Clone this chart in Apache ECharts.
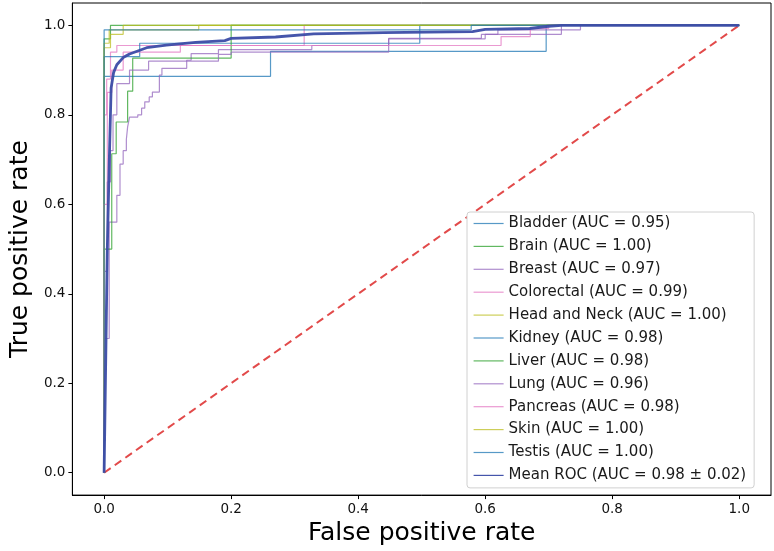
<!DOCTYPE html>
<html>
<head>
<meta charset="utf-8">
<script src="https://cdn.jsdelivr.net/npm/echarts@6/dist/echarts.min.js"></script>
<style>
  html, body { margin: 0; padding: 0; background: #fff; }
  #chart { width: 774px; height: 551px; }
</style>
</head>
<body>
<div id="chart"></div>
<script>
// ROC points [fpr, tpr]
var bladder = [[0,0],[0,0.6],[0,0.886],[0.262,0.942],[0.696,1],[1,1]];
var brain = [[0,0],[0,0.97],[0.01,1],[1,1]];
var breast = [[0,0],[0,0.3],[0.008,0.56],[0.02,0.62],[0.025,0.69],[0.03,0.72],[0.035,0.745],[0.037,0.773],
  [0.04,0.795],[0.053,0.8],[0.059,0.815],[0.064,0.829],[0.071,0.84],[0.076,0.851],[0.087,0.855],[0.087,0.889],
  [0.091,0.904],[0.13,0.922],[0.137,0.937],[0.18,0.946],[0.327,0.955],[0.448,0.97],[0.6,0.98],[0.62,0.99],[0.75,1],[1,1]];
var colorectal = [[0,0],[0,0.8],[0.004,0.88],[0.01,0.94],[0.02,0.955],[0.315,1],[1,1]];
var headNeck = [[0,0],[0,0.96],[0.008,0.99],[0.149,1],[1,1]];
var kidney = [[0,0],[0,0.93],[0.056,0.96],[0.497,1],[1,1]];
var liver = [[0,0],[0,0.5],[0.012,0.713],[0.019,0.784],[0.037,0.853],[0.045,0.927],[0.2,1],[1,1]];
var lung = [[0,0],[0,0.45],[0.005,0.65],[0.01,0.72],[0.014,0.8],[0.02,0.87],[0.04,0.9],[0.07,0.92],[0.18,0.935],
  [0.2,0.94],[0.448,0.971],[0.594,0.98],[0.72,1],[1,1]];
var pancreas = [[0,0],[0,0.6],[0.005,0.85],[0.012,0.9],[0.03,0.94],[0.12,0.955],[0.625,0.975],[0.671,0.993],[0.7,1],[1,1]];
var skin = [[0,0],[0,0.95],[0.01,0.98],[0.03,1],[1,1]];
var testis = [[0,0],[0,0.99],[0.578,1],[1,1]];
var meanRoc = [[0,0],[0.005,0.5],[0.008,0.69],[0.011,0.86],[0.015,0.895],[0.02,0.912],[0.03,0.928],[0.04,0.936],
  [0.067,0.95],[0.098,0.956],[0.144,0.962],[0.19,0.966],[0.2,0.971],[0.27,0.974],[0.33,0.981],[0.44,0.984],
  [0.58,0.986],[0.6,0.991],[0.67,0.993],[0.7,0.998],[0.72,1],[1,1]];
var chance = [[0,0],[1,1]];
var tickValues = [0, 0.2, 0.4, 0.6, 0.8, 1.0];

var names = ['Bladder (AUC = 0.95)', 'Brain (AUC = 1.00)', 'Breast (AUC = 0.97)', 'Colorectal (AUC = 0.99)',
  'Head and Neck (AUC = 1.00)', 'Kidney (AUC = 0.98)', 'Liver (AUC = 0.98)', 'Lung (AUC = 0.96)',
  'Pancreas (AUC = 0.98)', 'Skin (AUC = 1.00)', 'Testis (AUC = 1.00)'];
var curves = [bladder, brain, breast, colorectal, headNeck, kidney, liver, lung, pancreas, skin, testis];
var colors = ['#1f77b4', '#2ca02c', '#9467bd', '#e377c2', '#bcbd22'];

var font = 'DejaVu Sans';
var series = [];
for (var i = 0; i < curves.length; i++) {
  series.push({
    name: names[i], type: 'line', data: curves[i], step: 'end', symbol: 'none',
    color: colors[i % 5],
    lineStyle: {width: 1.2, opacity: 0.75}
  });
}
series.push({
  name: 'Mean ROC (AUC = 0.98 ± 0.02)', type: 'line', data: meanRoc, symbol: 'none',
  color: '#3b4ca6', lineStyle: {width: 2.8, opacity: 0.95}
});
series.push({
  name: 'chance', type: 'line', data: chance, symbol: 'none', color: '#e24a4a',
  lineStyle: {width: 2, type: [8, 5]}, z: 1
});

var axisCommon = {
  type: 'value', min: -0.05, max: 1.05, nameLocation: 'middle',
  nameTextStyle: {fontFamily: font, fontSize: 25, color: '#000'},
  axisLine: {show: true, onZero: false, lineStyle: {color: '#000'}},
  axisTick: {show: true, length: 4, customValues: tickValues, lineStyle: {color: '#000'}},
  axisLabel: {customValues: tickValues, margin: 7, fontSize: 13.5, color: '#111',
    formatter: function (v) { return v.toFixed(1); }},
  splitLine: {show: false}
};

var chart = echarts.init(document.getElementById('chart'));
chart.setOption({
  animation: false,
  backgroundColor: '#fff',
  textStyle: {fontFamily: font},
  grid: {left: 62, right: 3, top: 3, bottom: 54, show: true, borderColor: '#000', borderWidth: 1},
  legend: {
    data: names.concat(['Mean ROC (AUC = 0.98 ± 0.02)']),
    orient: 'vertical', left: 467, top: 212,
    padding: [4, 8, 5, 6], itemGap: 7.9, itemWidth: 30, itemHeight: 15, itemTextGap: 20,
    itemStyle: {opacity: 0},
    lineStyle: {width: 1.2},
    backgroundColor: '#fff', borderColor: '#d0d0d0', borderWidth: 1, borderRadius: 3,
    textStyle: {fontFamily: font, fontSize: 15, lineHeight: 15, color: '#1a1a1a'}
  },
  xAxis: Object.assign({}, axisCommon, {name: 'False positive rate', nameGap: 20}),
  yAxis: Object.assign({}, axisCommon, {name: 'True positive rate', nameGap: 27}),
  series: series
});
</script>
</body>
</html>
